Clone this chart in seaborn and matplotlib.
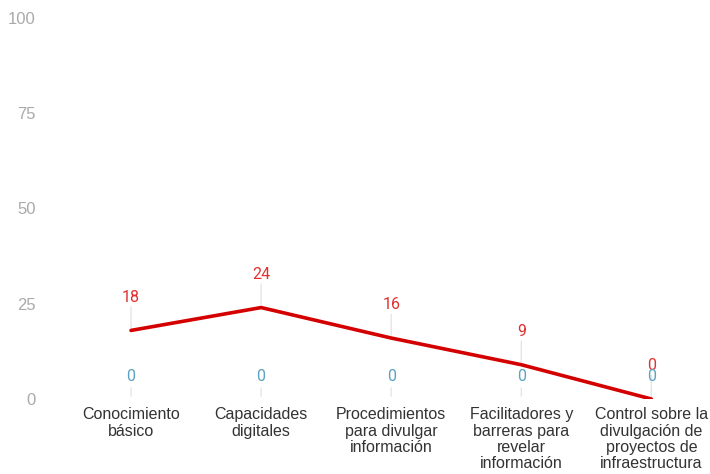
import matplotlib
matplotlib.use("Agg")
import matplotlib.pyplot as plt
import seaborn as sns
import pandas as pd

categories = ["Conocimiento\nbásico", "Capacidades\ndigitales",
              "Procedimientos\npara divulgar\ninformación",
              "Facilitadores y\nbarreras para\nrevelar\ninformación",
              "Control sobre la\ndivulgación de\nproyectos de\ninfraestructura"]
red_values = [18, 24, 16, 9, 0]
blue_values = [0, 0, 0, 0, 0]
y_ticks = [0, 25, 50, 75, 100]

sns.set_theme(style="white")
plt.rcParams['font.family'] = ['Roboto', 'DejaVu Sans']

df = pd.DataFrame({"cat": categories, "red": red_values, "blue": blue_values})

fig = plt.figure(figsize=(7.1, 4.74), dpi=100)
ax = fig.add_axes([66 / 710, 75 / 474, 640 / 710, 381 / 474])

# blue series sits on the baseline, only its labels are visible
sns.lineplot(x=range(len(df)), y="blue", data=df, ax=ax, color="#5ba3c0", linewidth=0, zorder=2)
sns.lineplot(x=range(len(df)), y="red", data=df, ax=ax, color="#d40000", linewidth=2.6, zorder=3)

for i, v in enumerate(df["red"]):
    ax.annotate("", xy=(i, v), xytext=(0, 19), textcoords="offset points",
                arrowprops=dict(arrowstyle="-", color="#e6e6e6", lw=1), zorder=1)
    ax.annotate(str(v), xy=(i, v), xytext=(0, 24), textcoords="offset points",
                ha="center", va="center", color="#e0302f", fontsize=11.5)
for i, v in enumerate(df["blue"]):
    ax.annotate("", xy=(i, v), xytext=(0, 10), textcoords="offset points",
                arrowprops=dict(arrowstyle="-", color="#e6e6e6", lw=1), zorder=1)
    ax.annotate(str(v), xy=(i, v), xytext=(0, 16), textcoords="offset points",
                ha="center", va="center", color="#5ba3c0", fontsize=11.5)

ax.set_ylim(0, 100)
ax.set_xlim(-0.5, 4.42)
ax.set_yticks(y_ticks)
ax.set_yticklabels([str(t) for t in y_ticks], color="#aaaaaa", fontsize=12,
                   family=["Liberation Sans", "DejaVu Sans"])
ax.set_xticks(range(len(categories)))
ax.set_xticklabels(categories, color="#333333", fontsize=11.5, linespacing=1.1, va="top",
                   family=["Liberation Sans", "DejaVu Sans"])
ax.tick_params(axis="y", length=0, pad=22)
ax.tick_params(axis="x", length=0, pad=6)
ax.set_xlabel("")
ax.set_ylabel("")
for s in ax.spines.values():
    s.set_visible(False)
for lbl in ax.get_yticklabels():
    lbl.set_horizontalalignment("right")

fig.savefig("out.png", dpi=100)
